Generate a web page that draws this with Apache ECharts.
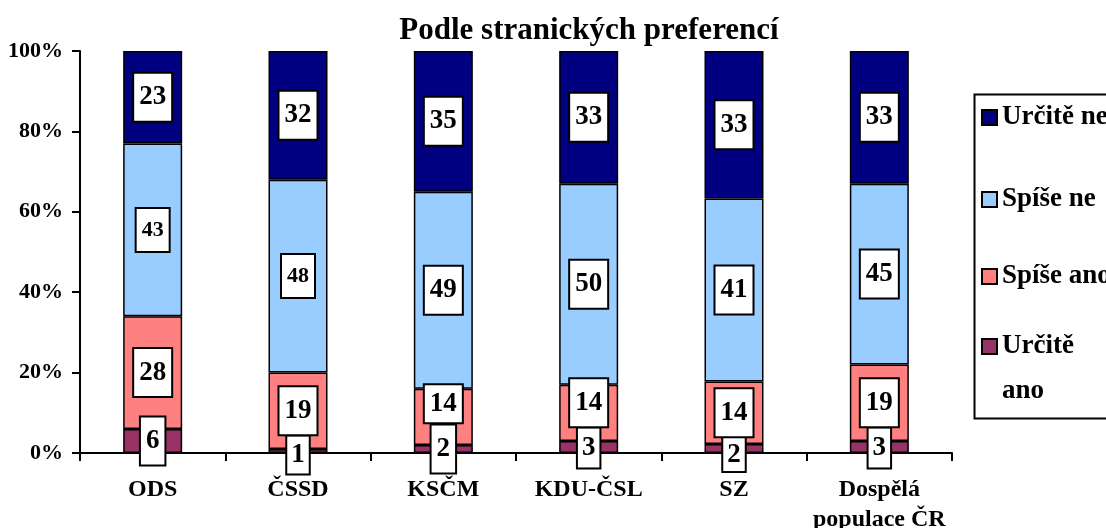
<!DOCTYPE html>
<html>
<head>
<meta charset="utf-8">
<script src="https://cdn.jsdelivr.net/npm/echarts@6/dist/echarts.min.js"></script>
<style>
  html, body { margin: 0; padding: 0; background: #fff; }
  #chart { width: 1106px; height: 528px; }
</style>
</head>
<body>
<div id="chart"></div>
<script>
// kategorie a hodnoty (v %)
const categories = ['ODS', 'ČSSD', 'KSČM', 'KDU-ČSL', 'SZ', 'Dospělá\npopulace ČR']
const urciteAno = [6, 1, 2, 3, 2, 3]
const spiseAno = [28, 19, 14, 14, 14, 19]
const spiseNe = [43, 48, 49, 50, 41, 45]
const urciteNe = [23, 32, 35, 33, 33, 33]
const yTicks = [0, 20, 40, 60, 80, 100]

const seriesNames = ['Určitě ano', 'Spíše ano', 'Spíše ne', 'Určitě ne']
const seriesValues = [urciteAno, spiseAno, spiseNe, urciteNe]
const colors = ['#993366', '#FF8080', '#99CCFF', '#000080']

const FONT = "'Liberation Serif', 'Times New Roman', serif"

// součty pro přepočet na 100 %
const totals = categories.map((c, i) => seriesValues.reduce((s, arr) => s + arr[i], 0))

// úpravy popisků (pozice / velikost rámečku), klíč: série|index kategorie
const labelTweaks = {
  'Spíše ne|0': { fontSize: 22, lineHeight: 22, padding: [10, 5] },
  'Spíše ne|1': { fontSize: 22, lineHeight: 22, padding: [10, 5] },
  'Spíše ano|2': { offset: [0, -13], padding: [5, 5] },
  'Spíše ano|3': { offset: [0, -10] },
  'Určitě ano|1': { offset: [0, 4], padding: [5, 4] },
  'Určitě ano|3': { offset: [0, 1], padding: [6, 4] },
  'Určitě ano|4': { offset: [0, 6], padding: [3, 4] },
  'Určitě ano|5': { offset: [0, 1], padding: [6, 4] }
}

const chart = echarts.init(document.getElementById('chart'))

const series = seriesNames.map((name, si) => ({
  name,
  type: 'bar',
  stack: 'total',
  barWidth: 59,
  itemStyle: { color: colors[si], borderColor: '#000', borderWidth: 1.5 },
  label: {
    show: true,
    position: 'inside',
    formatter: (p) => String(seriesValues[si][p.dataIndex]),
    fontFamily: FONT,
    fontWeight: 'bold',
    fontSize: 27,
    lineHeight: 27,
    color: '#000',
    backgroundColor: '#fff',
    borderColor: '#000',
    borderWidth: 2,
    padding: [10, 5]
  },
  data: seriesValues[si].map((v, i) => {
    const item = { value: v / totals[i] * 100 }
    const tw = labelTweaks[name + '|' + i]
    if (tw) item.label = tw
    return item
  })
}))

// legenda – každá položka zvlášť kvůli nestejným mezerám
const legendTops = { 'Určitě ne': 104, 'Spíše ne': 186, 'Spíše ano': 263, 'Určitě ano': 333 }
const legends = ['Určitě ne', 'Spíše ne', 'Spíše ano', 'Určitě ano'].map(name => ({
  data: [name],
  orient: 'vertical',
  left: 981,
  top: legendTops[name],
  padding: 0,
  itemWidth: 15,
  itemHeight: 15,
  icon: 'rect',
  selectedMode: false,
  formatter: (n) => n === 'Určitě ano' ? 'Určitě' : n,
  textStyle: { fontFamily: FONT, fontWeight: 'bold', fontSize: 27, color: '#000' }
}))

chart.setOption({
  animation: false,
  title: {
    text: 'Podle stranických preferencí',
    left: 584,
    top: 10,
    textAlign: 'center',
    textStyle: { fontFamily: FONT, fontWeight: 'bold', fontSize: 31, color: '#000' }
  },
  legend: legends,
  graphic: [
    {
      type: 'rect',
      left: 972,
      top: 92,
      shape: { width: 160, height: 324 },
      style: { fill: 'none', stroke: '#000', lineWidth: 2 }
    },
    {
      type: 'text',
      left: 1002,
      top: 378,
      style: { text: 'ano', font: 'bold 27px ' + FONT, fill: '#000' }
    }
  ],
  grid: { left: 80, right: 154, top: 51, bottom: 75, outerBoundsMode: 'none' },
  xAxis: {
    type: 'category',
    data: categories,
    axisLine: { lineStyle: { color: '#000', width: 2 } },
    axisTick: { show: true, length: 8, lineStyle: { color: '#000', width: 2 } },
    axisLabel: {
      interval: 0,
      margin: 22,
      fontFamily: FONT,
      fontWeight: 'bold',
      fontSize: 24,
      lineHeight: 30,
      color: '#000'
    }
  },
  yAxis: {
    type: 'value',
    min: yTicks[0],
    max: yTicks[yTicks.length - 1],
    interval: yTicks[1] - yTicks[0],
    splitLine: { show: false },
    axisLine: { show: true, lineStyle: { color: '#000', width: 2 } },
    axisTick: { show: true, length: 8, lineStyle: { color: '#000', width: 2 } },
    axisLabel: {
      formatter: '{value}%',
      margin: 17,
      fontFamily: FONT,
      fontWeight: 'bold',
      fontSize: 22,
      color: '#000'
    }
  },
  series
})
</script>
</body>
</html>
